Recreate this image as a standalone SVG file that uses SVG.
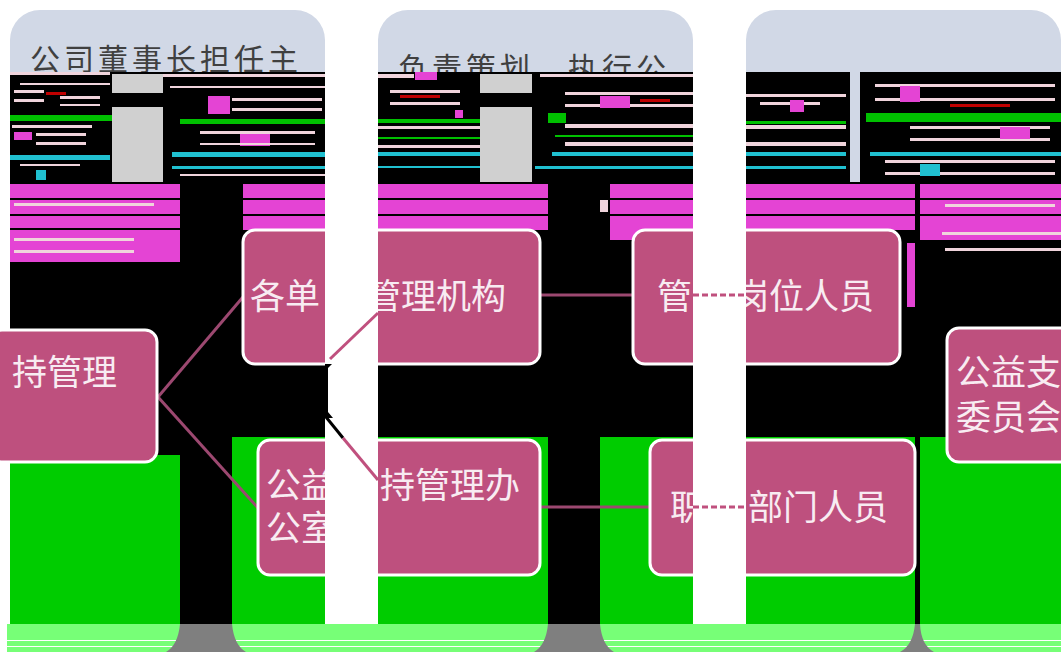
<svg xmlns="http://www.w3.org/2000/svg" width="1061" height="652" viewBox="0 0 1061 652">
<defs>
<style>
.hdr{fill:#D1D8E6}
.blk{fill:#000000}
.mag{fill:#E444D4}
.grn{fill:#00CC00}
.lgr{fill:#77FF77}
.cy{fill:#20C0D0}
.lp{fill:#F0D4DC}
.red{fill:#C00000}
.gb{fill:#00C000}
.gray{fill:#D0D0D0}
.node rect{fill:#BE507E;stroke:#FFFFFF;stroke-width:3}
.nt{font-family:"Noto Sans CJK SC","Noto Sans",sans-serif;font-size:35px;fill:#F8ECF2}
.ht{font-family:"Noto Sans CJK SC","Noto Sans",sans-serif;font-size:30px;fill:#404040;letter-spacing:4px}
.con{stroke:#9C4870;stroke-width:3;fill:none}
.con2{stroke:#C0507E;stroke-width:3;fill:none}
.dash{stroke:#C0507E;stroke-width:3;fill:none;stroke-dasharray:6 3}
.trunk{fill:#7F7F7F}
</style>
</defs>
<rect width="1061" height="652" fill="#FFFFFF"/>

<!-- column headers -->
<g id="col1">
<rect class="hdr" x="10" y="10" width="315" height="120" rx="30"/>
<text class="ht" x="30" y="70">公司董事长担任主</text>
</g>
<g id="col2">
<rect class="hdr" x="378" y="10" width="315" height="120" rx="30"/>
<text class="ht" x="398" y="79">负责策划、执行公</text>
</g>
<g id="col3">
<rect class="hdr" x="746" y="10" width="315" height="120" rx="30"/>
</g>

<!-- body black -->
<rect class="blk" x="10" y="72" width="1051" height="552"/>

<!-- glitch band col1 -->
<g id="glitch1">
<rect class="lp" x="10" y="72" width="100" height="3"/>
<rect class="lp" x="20" y="83" width="90" height="2"/>
<rect class="lp" x="14" y="90" width="30" height="3"/>
<rect class="lp" x="14" y="99" width="30" height="3"/>
<rect class="red" x="46" y="92" width="20" height="3"/>
<rect class="lp" x="60" y="96" width="40" height="3"/>
<rect class="lp" x="60" y="104" width="40" height="2"/>
<rect class="gb" x="10" y="115" width="102" height="6"/>
<rect class="lp" x="12" y="125" width="80" height="3"/>
<rect class="mag" x="14" y="132" width="18" height="8"/>
<rect class="lp" x="36" y="133" width="50" height="3"/>
<rect class="lp" x="36" y="142" width="50" height="3"/>
<rect class="cy" x="10" y="155" width="100" height="5"/>
<rect class="lp" x="20" y="164" width="60" height="2"/>
<rect class="cy" x="36" y="170" width="10" height="10"/>
<rect class="gray" x="112" y="74" width="51" height="108"/>
<rect class="blk" x="112" y="93" width="51" height="14"/>
<rect class="lp" x="163" y="74" width="162" height="3"/>
<rect class="lp" x="170" y="86" width="155" height="2"/>
<rect class="mag" x="208" y="96" width="22" height="18"/>
<rect class="lp" x="232" y="98" width="90" height="3"/>
<rect class="lp" x="232" y="108" width="90" height="3"/>
<rect class="gb" x="180" y="119" width="145" height="5"/>
<rect class="lp" x="200" y="131" width="115" height="3"/>
<rect class="mag" x="240" y="134" width="30" height="12"/>
<rect class="lp" x="200" y="143" width="115" height="2"/>
<rect class="cy" x="172" y="152" width="153" height="5"/>
<rect class="cy" x="172" y="166" width="153" height="3"/>
<rect class="lp" x="180" y="174" width="145" height="2"/>
</g>

<!-- glitch band col2 -->
<g id="glitch2">
<rect class="mag" x="415" y="72" width="22" height="8"/>
<rect class="lp" x="378" y="74" width="36" height="4"/>
<rect class="lp" x="390" y="90" width="70" height="3"/>
<rect class="lp" x="390" y="102" width="70" height="3"/>
<rect class="red" x="400" y="95" width="40" height="3"/>
<rect class="mag" x="455" y="110" width="8" height="8"/>
<rect class="gb" x="378" y="119" width="102" height="4"/>
<rect class="lp" x="378" y="126" width="102" height="3"/>
<rect class="gb" x="378" y="137" width="102" height="2"/>
<rect class="lp" x="378" y="145" width="102" height="3"/>
<rect class="cy" x="378" y="152" width="102" height="4"/>
<rect class="cy" x="378" y="166" width="102" height="2"/>
<rect class="gray" x="480" y="74" width="52" height="108"/>
<rect class="blk" x="480" y="93" width="52" height="14"/>
<rect class="lp" x="540" y="74" width="153" height="3"/>
<rect class="lp" x="565" y="92" width="128" height="3"/>
<rect class="lp" x="565" y="104" width="128" height="3"/>
<rect class="mag" x="600" y="96" width="30" height="12"/>
<rect class="red" x="640" y="99" width="30" height="3"/>
<rect class="gb" x="548" y="113" width="18" height="10"/>
<rect class="lp" x="565" y="124" width="128" height="4"/>
<rect class="gb" x="555" y="135" width="138" height="2"/>
<rect class="lp" x="565" y="142" width="128" height="4"/>
<rect class="cy" x="552" y="152" width="141" height="4"/>
<rect class="cy" x="535" y="166" width="158" height="3"/>
</g>

<!-- glitch band col3 -->
<g id="glitch3">
<rect class="lp" x="746" y="94" width="100" height="3"/>
<rect class="lp" x="760" y="102" width="60" height="3"/>
<rect class="mag" x="790" y="100" width="14" height="12"/>
<rect class="gb" x="746" y="121" width="100" height="3"/>
<rect class="lp" x="746" y="125" width="100" height="4"/>
<rect class="lp" x="746" y="142" width="100" height="4"/>
<rect class="cy" x="746" y="152" width="100" height="4"/>
<rect class="cy" x="746" y="166" width="100" height="3"/>
<rect class="hdr" x="850" y="72" width="10" height="110"/>
<rect class="lp" x="875" y="84" width="180" height="3"/>
<rect class="lp" x="875" y="98" width="180" height="3"/>
<rect class="mag" x="900" y="86" width="20" height="16"/>
<rect class="red" x="950" y="104" width="60" height="3"/>
<rect class="gb" x="866" y="113" width="195" height="9"/>
<rect class="lp" x="910" y="126" width="140" height="3"/>
<rect class="lp" x="910" y="138" width="140" height="3"/>
<rect class="mag" x="1000" y="127" width="30" height="12"/>
<rect class="cy" x="870" y="152" width="191" height="4"/>
<rect class="lp" x="885" y="160" width="170" height="3"/>
<rect class="lp" x="885" y="172" width="170" height="3"/>
<rect class="cy" x="920" y="164" width="20" height="12"/>
</g>

<!-- magenta bands -->
<g id="bands">
<rect class="mag" x="10" y="184" width="170" height="78"/>
<rect class="blk" x="10" y="198" width="170" height="2"/>
<rect class="blk" x="10" y="214" width="170" height="2"/>
<rect class="blk" x="10" y="228" width="170" height="2"/>
<rect class="lp" x="14" y="203" width="140" height="3"/>
<rect class="lp" x="14" y="238" width="120" height="3"/>
<rect class="lp" x="14" y="250" width="120" height="3"/>
<rect class="mag" x="243" y="184" width="82" height="46"/>
<rect class="blk" x="243" y="198" width="82" height="2"/>
<rect class="blk" x="243" y="214" width="82" height="2"/>
<rect class="mag" x="378" y="184" width="170" height="46"/>
<rect class="blk" x="378" y="198" width="170" height="2"/>
<rect class="blk" x="378" y="214" width="170" height="2"/>
<rect class="mag" x="610" y="184" width="83" height="56"/>
<rect class="blk" x="610" y="198" width="83" height="2"/>
<rect class="blk" x="610" y="214" width="83" height="2"/>
<rect class="lp" x="600" y="200" width="8" height="12"/>
<rect class="mag" x="746" y="184" width="169" height="46"/>
<rect class="blk" x="746" y="198" width="169" height="2"/>
<rect class="blk" x="746" y="214" width="169" height="2"/>
<rect class="mag" x="920" y="184" width="141" height="56"/>
<rect class="blk" x="920" y="198" width="141" height="2"/>
<rect class="blk" x="920" y="214" width="141" height="2"/>
<rect class="lp" x="945" y="204" width="110" height="3"/>
<rect class="lp" x="942" y="232" width="119" height="3"/>
<rect class="lp" x="945" y="248" width="116" height="3"/>
<rect class="mag" x="907" y="243" width="8" height="64"/>
</g>

<!-- green areas -->
<g id="green">
<rect class="grn" x="10" y="455" width="170" height="169"/>
<rect class="grn" x="232" y="437" width="93" height="187"/>
<rect class="grn" x="378" y="437" width="170" height="187"/>
<rect class="grn" x="600" y="437" width="93" height="187"/>
<rect class="grn" x="746" y="437" width="169" height="187"/>
<rect class="grn" x="920" y="437" width="141" height="187"/>
</g>

<!-- bottom band and trunk bases -->
<rect class="lgr" x="7" y="624" width="1054" height="28"/>
<rect x="7" y="640" width="1054" height="1" fill="#FFFFFF"/>
<rect x="7" y="646" width="1054" height="1" fill="#FFFFFF"/>
<path class="trunk" d="M180 624 H232 Q234 645 246 652 H166 Q178 645 180 624 Z"/>
<path class="trunk" d="M548 624 H600 Q602 645 614 652 H534 Q546 645 548 624 Z"/>
<path class="trunk" d="M915 624 H920 Q921 645 934 652 H900 Q913 645 915 624 Z"/>

<!-- connectors -->
<g id="connectors">
<path class="con" d="M158 397 L243 297"/>
<path class="con" d="M158 397 L258 508"/>
<path class="con" d="M540 295 H633"/>
<path class="con" d="M540 507 H650"/>
</g>

<!-- nodes -->
<g id="nodeA" class="node">
<rect x="-10" y="330" width="167" height="132" rx="12"/>
<text class="nt" x="12" y="385">持管理</text>
</g>
<g id="nodeB" class="node">
<rect x="243" y="230" width="297" height="134" rx="12"/>
<text class="nt" x="250" y="309">各单</text>
<text class="nt" x="366" y="309">管理机构</text>
</g>
<g id="nodeC" class="node">
<rect x="258" y="440" width="282" height="135" rx="12"/>
<text class="nt" x="266" y="498">公益<tspan x="266" dy="43">公室</tspan></text>
<text class="nt" x="380" y="498">持管理办</text>
</g>
<g id="nodeD" class="node">
<rect x="633" y="230" width="267" height="134" rx="12"/>
<text class="nt" x="657" y="309">管</text>
<text class="nt" x="734" y="309">岗位人员</text>
</g>
<g id="nodeE" class="node">
<rect x="650" y="440" width="265" height="135" rx="12"/>
<text class="nt" x="670" y="520">职</text>
<text class="nt" x="748" y="520">部门人员</text>
</g>
<g id="nodeF" class="node">
<rect x="947" y="328" width="140" height="134" rx="12"/>
<text class="nt" x="956" y="385">公益支<tspan x="956" dy="45">委员会</tspan></text>
</g>

<!-- white gaps between columns -->
<rect x="325" y="0" width="53" height="624" fill="#FFFFFF"/>
<rect x="693" y="0" width="53" height="624" fill="#FFFFFF"/>
<path class="blk" d="M325 364 H332 L328 368 V412 L333 418 L325 418 Z"/>

<g id="gap-lines">
<path class="con2" d="M330 359 L378 313"/>
<path d="M326 417 L343 438" stroke="#000000" stroke-width="3" fill="none"/>
<path class="con2" d="M343 438 L378 480"/>
<path class="dash" d="M693 295 H746"/>
<path class="dash" d="M693 507 H746"/>
</g>
</svg>
